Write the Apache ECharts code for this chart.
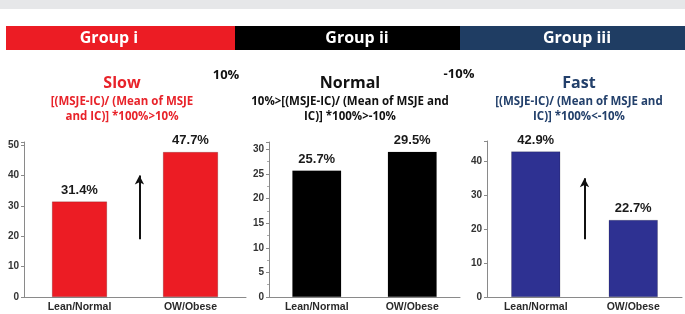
<!DOCTYPE html>
<html>
<head>
<meta charset="utf-8">
<script src="https://cdn.jsdelivr.net/npm/echarts@6/dist/echarts.min.js"></script>
<style>
  html, body { margin: 0; padding: 0; background: #fff; }
  #main { width: 685px; height: 314px; }
</style>
</head>
<body>
<div id="main"></div>
<script>
// data
const categories = ["Lean/Normal", "OW/Obese"];
const groupNames = ["Group i", "Group ii", "Group iii"];
const slowValues = [31.4, 47.7];
const normalValues = [25.7, 29.5];
const fastValues = [42.9, 22.7];
const titles = ["Slow", "Normal", "Fast"];
const subtitles = [
  "[(MSJE-IC)/ (Mean of MSJE\nand IC)] *100%>10%",
  "10%>[(MSJE-IC)/ (Mean of MSJE and\nIC)] *100%>-10%",
  "[(MSJE-IC)/ (Mean of MSJE and\nIC)] *100%<-10%"
];
const cutoffs = ["10%", "-10%"];
const arrowFrom = [19, null, 17];
const arrowTo = [40, null, 35];

const chart = echarts.init(document.getElementById("main"));

const barColors = ["#ec1c24", "#000000", "#2e3192"];
const headColors = ["#ec1c24", "#000000", "#1f3d63"];
const titleColors = ["#e8232a", "#111111", "#23406b"];
const values = [slowValues, normalValues, fastValues];

// panel layout
const grids = [
  { left: 24, width: 222, top: 142, bottom: 17 },
  { left: 269, width: 191, top: 142, bottom: 17 },
  { left: 487, width: 195, top: 141, bottom: 17 }
];
const yMax = [51, 31.5, 46];
const yStep = [10, 5, 10];
const barW = [55, 49, 49];
const arrowX = [1.04, 1, 1];
const titleX = [117, 345, 574];

const axisFont = "Liberation Sans, Arial, sans-serif";
const titleFont = "Open Sans, Noto Sans, sans-serif";

const xAxis = [];
const yAxis = [];
const series = [];
grids.forEach((g, i) => {
  xAxis.push({
    type: "category",
    gridIndex: i,
    data: categories,
    axisLine: { lineStyle: { color: "#8a8a8a", width: 1 } },
    axisTick: { show: false },
    axisLabel: { color: "#2a2a2a", fontSize: 10.5, fontWeight: "bold", fontFamily: axisFont, margin: 5 }
  });
  // hidden value axis used to place the arrow between the bars
  xAxis.push({ type: "value", gridIndex: i, min: 0, max: 2, show: false });
  yAxis.push({
    type: "value",
    gridIndex: i,
    min: 0,
    max: yMax[i],
    interval: yStep[i],
    splitLine: { show: false },
    axisLine: { show: true, lineStyle: { color: "#8a8a8a", width: 1 } },
    axisTick: { show: true, length: 3, lineStyle: { color: "#8a8a8a" } },
    minorTick: { show: i === 1, splitNumber: 2, length: 2, lineStyle: { color: "#aaa" } },
    axisLabel: {
      color: "#333",
      fontSize: 10,
      fontWeight: "bold",
      fontFamily: axisFont,
      margin: 5,
      formatter: v => (v % yStep[i] === 0 ? v : "")
    }
  });
  series.push({
    type: "bar",
    xAxisIndex: i * 2,
    yAxisIndex: i,
    data: values[i],
    barWidth: barW[i],
    itemStyle: { color: barColors[i], borderColor: "rgba(0,0,0,0.35)", borderWidth: 0.5 },
    label: {
      show: true,
      position: "top",
      distance: 5,
      formatter: p => p.value + "%",
      color: "#1a1a1a",
      fontSize: 13,
      fontWeight: "bold",
      fontFamily: axisFont
    }
  });
  if (arrowFrom[i] != null) {
    series.push({
      type: "line",
      xAxisIndex: i * 2 + 1,
      yAxisIndex: i,
      data: [[arrowX[i], arrowFrom[i]], [arrowX[i], arrowTo[i]]],
      symbol: "none",
      lineStyle: { opacity: 0 },
      silent: true,
      markLine: {
        silent: true,
        symbol: ["none", "arrow"],
        symbolSize: [7, 9],
        label: { show: false },
        lineStyle: { color: "#111", width: 2, type: "solid" },
        data: [[{ coord: [arrowX[i], arrowFrom[i]] }, { coord: [arrowX[i], arrowTo[i]] }]]
      }
    });
  }
});

const title = titles.map((t, i) => ({
  text: t,
  subtext: subtitles[i],
  left: titleX[i],
  top: 70,
  textAlign: "center",
  itemGap: 3,
  textStyle: { color: titleColors[i], fontSize: 16, fontWeight: "bold", fontFamily: titleFont },
  subtextStyle: { color: titleColors[i], fontSize: 11.5, fontWeight: "bold", fontFamily: titleFont, lineHeight: 15 }
}));

// header bands
const bandEdges = [6, 235, 460, 685];
const graphic = [
  { type: "rect", left: 0, top: 0, shape: { width: 685, height: 9 }, style: { fill: "#e6e7e9" } }
];
groupNames.forEach((name, i) => {
  graphic.push({
    type: "rect",
    left: bandEdges[i],
    top: 26,
    shape: { width: bandEdges[i + 1] - bandEdges[i], height: 24 },
    style: { fill: headColors[i] }
  });
  graphic.push({
    type: "text",
    x: [109, 357, 577][i],
    y: 38,
    style: {
      text: name,
      fill: "#fff",
      font: "bold 16px " + titleFont,
      textAlign: "center",
      textVerticalAlign: "middle"
    }
  });
});
[[226, 75], [459, 74]].forEach((pos, k) => {
  graphic.push({
    type: "text",
    x: pos[0],
    y: pos[1],
    style: {
      text: cutoffs[k],
      fill: "#111",
      font: "bold 13px " + titleFont,
      textAlign: "center",
      textVerticalAlign: "middle"
    }
  });
});

chart.setOption({
  animation: false,
  title: title,
  grid: grids,
  xAxis: xAxis,
  yAxis: yAxis,
  series: series,
  graphic: graphic
});
</script>
</body>
</html>
